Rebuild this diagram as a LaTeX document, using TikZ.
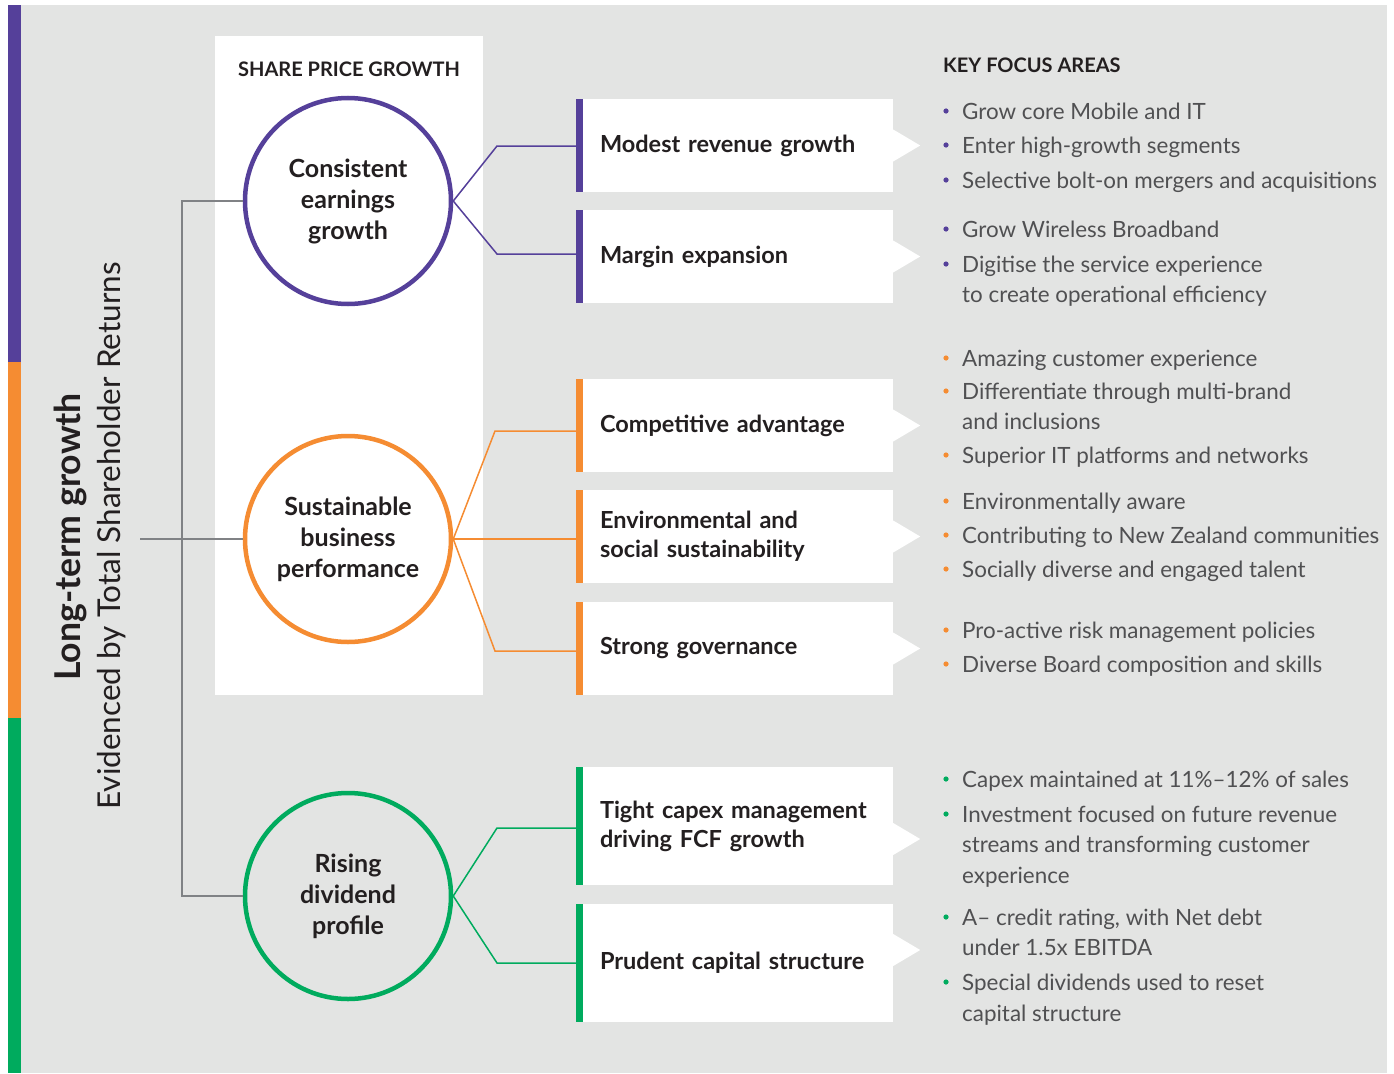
\documentclass[tikz,border=0pt]{standalone}
\usepackage{fontspec}
\setmainfont{Lato}
\usetikzlibrary{positioning}
\definecolor{tpurple}{HTML}{55409A}
\definecolor{torange}{HTML}{F58C32}
\definecolor{tgreen}{HTML}{00AB5E}
\definecolor{tbg}{HTML}{E3E4E3}
\definecolor{tline}{HTML}{808285}
\definecolor{ttext}{HTML}{231F20}
\definecolor{tbody}{HTML}{505052}
\tikzset{
  pillar/.style={circle, draw=#1, line width=4.5pt, minimum size=206pt, inner sep=0pt,
    align=center, text=ttext, font=\fontsize{25}{31}\selectfont\bfseries},
  focus/.style={fill=white, minimum width=317pt, text width=269pt, inner xsep=24pt,
    align=left, text=ttext, font=\fontsize{23.5}{29}\selectfont\bfseries},
  wire/.style={draw=#1, line width=1.5pt},
  trunk/.style={draw=tline, line width=1.5pt},
  item/.style={anchor=base west, inner sep=0pt, text=tbody, font=\fontsize{22.4}{25}\selectfont},
  heading/.style={anchor=base, inner sep=0pt, text=ttext, font=\fontsize{20}{24}\selectfont\bfseries}
}
\begin{document}
\begin{tikzpicture}[x=1pt,y=-1pt]
\useasboundingbox (0,0) rectangle (1394,1073);
\fill[tbg] (8,5) rectangle (1387,1073);
\fill[tpurple] (8,5) rectangle (21,362);
\fill[torange] (8,362) rectangle (21,718);
\fill[tgreen] (8,718) rectangle (21,1073);
\fill[white] (215,36) rectangle (483,695);

% titles
\node[rotate=90, anchor=base, inner sep=0pt, text=ttext, font=\fontsize{35.6}{40}\selectfont\bfseries] (ltg) at (80,537) {Long-term growth};
\node[rotate=90, anchor=base, inner sep=0pt, text=ttext, font=\fontsize{31.5}{34}\selectfont] (tsr) at (120,536) {Evidenced by Total Shareholder Returns};
\node[heading] (spg) at (349,77) {SHARE PRICE GROWTH};
\node[heading, anchor=base west] (kfa) at (943,73) {KEY FOCUS AREAS};

% pillars
\node[pillar=tpurple] (earn) at (348,201) {Consistent\\earnings\\growth};
\node[pillar=torange] (sust) at (348,539) {Sustainable\\business\\performance};
\node[pillar=tgreen] (divd) at (348,896) {Rising\\dividend\\profile};

% drivers
\node[focus, minimum height=93pt] (rev) at (734.5,145.5) {Modest revenue growth};
\node[focus, minimum height=93pt] (mar) at (734.5,256.5) {Margin expansion};
\node[focus, minimum height=93pt] (comp) at (734.5,425.5) {Competitive advantage};
\node[focus, minimum height=93pt] (env) at (734.5,536.5) {Environmental and\\social sustainability};
\node[focus, minimum height=93pt] (gov) at (734.5,648.5) {Strong governance};
\node[focus, minimum height=118pt] (capx) at (734.5,826) {Tight capex management\\driving FCF growth};
\node[focus, minimum height=118pt] (cap) at (734.5,963) {Prudent capital structure};
\foreach \n/\c/\d in {rev/tpurple/0, mar/tpurple/0, comp/torange/0, env/torange/0,
    gov/torange/0, capx/tgreen/-13, cap/tgreen/13}{
  \fill[\c] (\n.north west) rectangle ([xshift=7pt]\n.south west);
  \fill[white] ([yshift=\d pt+16pt]\n.east) -- ([xshift=27pt, yshift=\d pt]\n.east)
    -- ([yshift=\d pt-16pt]\n.east) -- cycle;
}

% links
\coordinate (root) at (140,539);
\draw[trunk] (root) -- (sust.west);
\draw[trunk] (earn.west) -- (182,0 |- earn.west) -- (182,0 |- divd.west) -- (divd.west);
\draw[wire=tpurple] (earn.east) -- (497,146) -- (rev.west |- 497,146);
\draw[wire=tpurple] (earn.east) -- (497,254) -- (mar.west |- 497,254);
\draw[wire=torange] (sust.east) -- (495,431) -- (comp.west |- 495,431);
\draw[wire=torange] (sust.east) -- (env.west |- sust.east);
\draw[wire=torange] (sust.east) -- (495,651) -- (gov.west |- 495,651);
\draw[wire=tgreen] (divd.east) -- (497,828) -- (capx.west |- 497,828);
\draw[wire=tgreen] (divd.east) -- (497,963) -- (cap.west |- 497,963);

% key focus areas
\foreach \y/\c/\b/\t in {119/tpurple/1/Grow core Mobile and IT,
    153/tpurple/1/Enter high-growth segments,
    188/tpurple/1/Selective bolt-on mergers and acquisitions,
    237/tpurple/1/Grow Wireless Broadband,
    272/tpurple/1/Digitise the service experience,
    302/tpurple/0/to create operational efficiency,
    366/torange/1/Amazing customer experience,
    399/torange/1/Differentiate through multi-brand,
    429/torange/0/and inclusions,
    463/torange/1/Superior IT platforms and networks,
    509/torange/1/Environmentally aware,
    543/torange/1/Contributing to New Zealand communities,
    577/torange/1/Socially diverse and engaged talent,
    638/torange/1/Pro-active risk management policies,
    672/torange/1/Diverse Board composition and skills,
    787/tgreen/1/Capex maintained at 11\%–12\% of sales,
    822/tgreen/1/Investment focused on future revenue,
    852/tgreen/0/streams and transforming customer,
    883/tgreen/0/experience,
    925/tgreen/1/{A– credit rating, with Net debt},
    955/tgreen/0/under 1.5x EBITDA,
    990/tgreen/1/Special dividends used to reset,
    1021/tgreen/0/capital structure}{
  \ifnum\b=1 \fill[\c] (946,\y-8) circle (2.6pt); \fi
  \node[item] (k\y) at (962,\y) {\t};
}
\end{tikzpicture}
\end{document}
